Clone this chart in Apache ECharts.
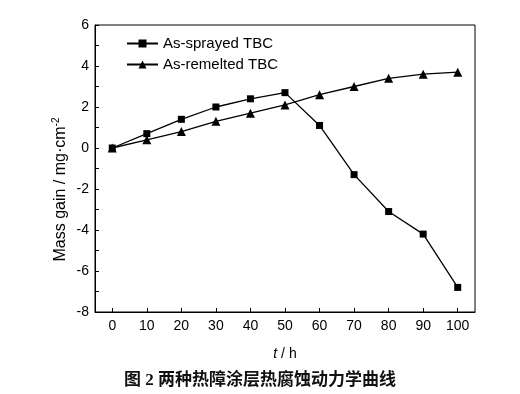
<!DOCTYPE html>
<html><head><meta charset="utf-8">
<script src="https://cdn.jsdelivr.net/npm/echarts@6/dist/echarts.min.js"></script>
<style>html,body{margin:0;padding:0;background:#fff}#c{width:520px;height:394px}</style>
</head><body><div id="c"></div>
<script>
const hours = [0, 10, 20, 30, 40, 50, 60, 70, 80, 90, 100];
const sprayed = [0, 0.7, 1.4, 2.0, 2.4, 2.7, 1.1, -1.3, -3.1, -4.2, -6.8];
const remelted = [0, 0.4, 0.8, 1.3, 1.7, 2.1, 2.6, 3.0, 3.4, 3.6, 3.7];
const seriesNames = ['As-sprayed TBC', 'As-remelted TBC'];
const caption = '图 2 两种热障涂层热腐蚀动力学曲线';

const chart = echarts.init(document.getElementById('c'), null, {renderer: 'canvas'});
const font = 'Liberation Sans, Arial, sans-serif';
chart.setOption({
  animation: false,
  backgroundColor: '#fff',
  grid: {left: 95, right: 45, top: 25, bottom: 82, show: true, borderColor: '#000', borderWidth: 1, containLabel: false},
  title: {
    text: caption, left: 'center', top: 367,
    textStyle: {fontFamily: 'Liberation Serif, Noto Sans CJK SC, serif', fontWeight: 'bold', fontSize: 17, color: '#111'}
  },
  legend: {
    left: 126, top: 36, padding: 0, orient: 'vertical', itemGap: 6, itemWidth: 31, itemHeight: 10,
    textStyle: {fontFamily: font, fontSize: 15, color: '#000'},
    data: seriesNames
  },
  xAxis: {
    type: 'value', min: -5, max: 105, interval: 10,
    name: '{i|t} / h', nameLocation: 'middle', nameGap: 35, nameMoveOverlap: false,
    nameTextStyle: {fontFamily: font, fontSize: 14, color: '#000', rich: {i: {fontStyle: 'italic', fontFamily: font, fontSize: 14}}},
    axisLine: {show: true, onZero: false, lineStyle: {color: '#000', width: 1}},
    axisTick: {show: true, inside: true, length: 4, lineStyle: {color: '#000'}, customValues: hours},
    axisLabel: {fontFamily: font, fontSize: 14, color: '#000', margin: 7, customValues: hours},
    splitLine: {show: false}
  },
  yAxis: {
    type: 'value', min: -8, max: 6, interval: 2,
    name: 'Mass gain / mg·cm{s|-2}', nameLocation: 'middle', nameGap: 25, nameRotate: 90, nameMoveOverlap: false,
    nameTextStyle: {fontFamily: font, fontSize: 16, color: '#000', padding: [0, 42, 0, 0],
      rich: {s: {fontSize: 10, verticalAlign: 'top', fontFamily: font, padding: [0, 0, 9, 0]}}},
    axisLine: {show: true, onZero: false, lineStyle: {color: '#000', width: 1}},
    axisTick: {show: true, inside: true, length: 4, lineStyle: {color: '#000'}},
    minorTick: {show: true, splitNumber: 2, length: 4, lineStyle: {color: '#000'}},
    axisLabel: {fontFamily: font, fontSize: 14, color: '#000', margin: 6},
    splitLine: {show: false}
  },
  series: [
    {name: seriesNames[0], type: 'line', data: hours.map((h, i) => [h, sprayed[i]]),
     symbol: 'rect', symbolSize: 7, lineStyle: {color: '#000', width: 1.3}, itemStyle: {color: '#000'}},
    {name: seriesNames[1], type: 'line', data: hours.map((h, i) => [h, remelted[i]]),
     symbol: 'triangle', symbolSize: 9, lineStyle: {color: '#000', width: 1.3}, itemStyle: {color: '#000'}}
  ]
});
</script></body></html>
